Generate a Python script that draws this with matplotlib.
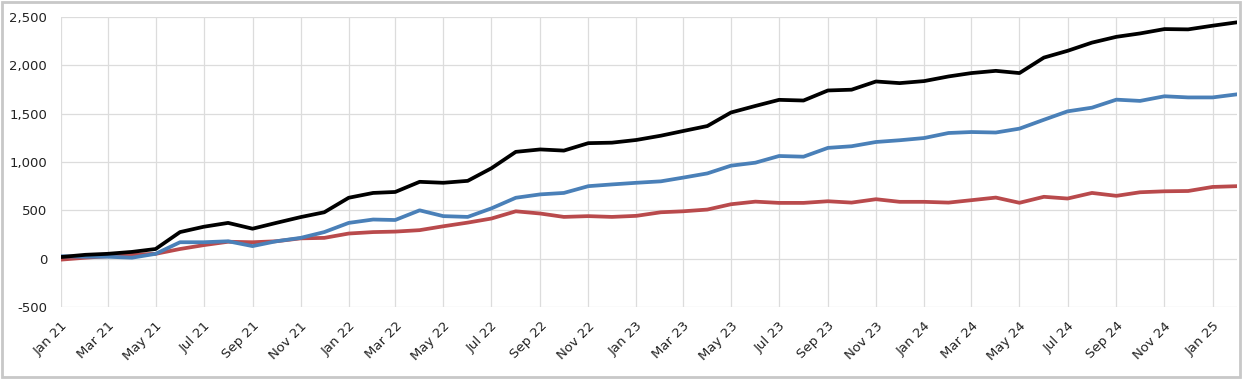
import matplotlib
matplotlib.use("Agg")
import matplotlib.pyplot as plt
import matplotlib.dates as mdates
import matplotlib.ticker as mticker
import pandas as pd
from matplotlib.patches import Rectangle

plt.rcParams['font.family'] = ['DejaVu Sans']

months = pd.date_range("2021-01-01", "2025-02-01", freq="MS")

black_series = [17, 40, 50, 70, 100, 275, 330, 370, 310, 370, 430, 480,
                630, 680, 690, 795, 785, 805, 935, 1105, 1130, 1118, 1195, 1200,
                1228, 1272, 1320, 1372, 1512, 1580, 1643, 1636, 1740, 1748, 1833, 1816,
                1837, 1885, 1920, 1943, 1920, 2080, 2150, 2235, 2295, 2330, 2375, 2372,
                2410, 2445]
blue_series = [25, 20, 20, 10, 50, 170, 170, 180, 130, 180, 215, 275,
               370, 405, 400, 500, 440, 432, 520, 630, 665, 680, 750, 768,
               785, 800, 838, 882, 962, 993, 1062, 1055, 1146, 1163, 1207, 1225,
               1248, 1300, 1310, 1305, 1345, 1437, 1524, 1562, 1645, 1632, 1680, 1668,
               1668, 1700]
red_series = [-10, 10, 25, 40, 50, 100, 140, 175, 170, 180, 210, 215,
              260, 275, 280, 295, 335, 373, 415, 490, 467, 432, 440, 432,
              443, 480, 490, 508, 563, 590, 577, 577, 594, 580, 615, 588,
              588, 580, 605, 632, 578, 640, 622, 680, 650, 687, 697, 700,
              742, 750]

y_ticks = [-500, 0, 500, 1000, 1500, 2000, 2500]

fig = plt.figure(figsize=(12.42, 3.79), dpi=100)
ax = fig.add_axes([61/1242, 1 - 307/379, (1237 - 61)/1242, (307 - 17)/379])

ax.plot(months, red_series, color="#b94a4c", lw=2.7, solid_capstyle="round", zorder=3)
ax.plot(months, blue_series, color="#4a80b8", lw=2.7, solid_capstyle="round", zorder=4)
ax.plot(months, black_series, color="#000000", lw=2.7, solid_capstyle="round", zorder=5)

ax.set_xlim(months[0], months[-1])
ax.set_ylim(-500, 2500)
ax.set_yticks(y_ticks)
ax.yaxis.set_major_formatter(mticker.FuncFormatter(lambda v, p: f"{int(v):,}"))
ax.xaxis.set_major_locator(mdates.MonthLocator(bymonth=[1, 3, 5, 7, 9, 11]))
ax.xaxis.set_major_formatter(mdates.DateFormatter("%b %y"))

ax.grid(True, color="#dcdcdc", lw=0.9)
ax.set_axisbelow(True)
for s in ax.spines.values():
    s.set_visible(False)
ax.tick_params(axis="both", length=0, labelsize=9.5, colors="#222222")
ax.tick_params(axis="y", pad=10)
ax.tick_params(axis="x", pad=9)
for lab in ax.get_xticklabels():
    lab.set_rotation(45)
    lab.set_ha("right")
    lab.set_rotation_mode("anchor")

fig.patches.append(Rectangle((2/1242, 2/379), 1238/1242, 375/379, transform=fig.transFigure,
                             fill=False, edgecolor="#c8c8c8", lw=2))

fig.savefig("out.png", dpi=100)
